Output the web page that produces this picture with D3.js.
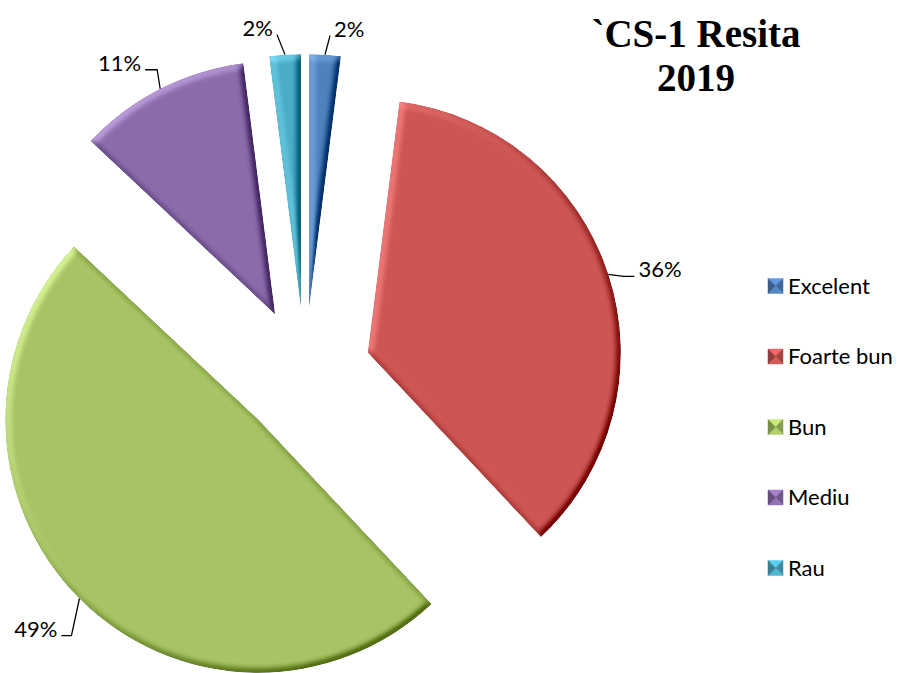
<!DOCTYPE html>
<html>
<head>
<meta charset="utf-8">
<script src="https://cdnjs.cloudflare.com/ajax/libs/d3/7.8.5/d3.min.js"></script>
<style>
    body { margin: 0; background: #fff; }
</style>
</head>
<body>
<div id="chart"></div>
<script>
//DATA
var categories = ["Excelent", "Foarte bun", "Bun", "Mediu", "Rau"];
var percentValues = [2, 36, 49, 11, 2];
var percentLabels = ["2%", "36%", "49%", "11%", "2%"];
var titleLines = ["`CS-1 Resita", "2019"];

//STYLE + LAYOUT
var sliceColors = ["#4f81bd", "#cb5653", "#a6c463", "#8a6cab", "#4bacc6"];
var width = 901,
    height = 673;
var center = { x: 305, y: 373 };
var radius = 253,
    explode = 66;
// elbow of each leader line relative to the arc midpoint: [dx, dy, horizontal stub]
var leaderOffsets = [[5, -19, 0], [15, 2, 11], [-8, 37, -10], [-3, -19, -12], [-8, -20, 0]];
var labelFont = "Lato, 'Open Sans', sans-serif";

var svg = d3.select("#chart").append("svg")
    .attr("width", width)
    .attr("height", height);

/*--------------------------------------- bevel filter --------------------------------------*/
var defs = svg.append("defs");
// region is in the slice's local (translated) coordinates, so keep it big
var bevel = defs.append("filter")
    .attr("id", "bevel")
    .attr("filterUnits", "userSpaceOnUse")
    .attr("x", -width).attr("y", -height)
    .attr("width", width * 2).attr("height", height * 2)
    .attr("color-interpolation-filters", "sRGB");

bevel.append("feGaussianBlur")
    .attr("in", "SourceAlpha")
    .attr("stdDeviation", 3.5)
    .attr("result", "blur");

var light = bevel.append("feDiffuseLighting")
    .attr("in", "blur")
    .attr("surfaceScale", 5)
    .attr("diffuseConstant", 1)
    .attr("lighting-color", "#fff")
    .attr("result", "diffuse");
light.append("feDistantLight")
    .attr("azimuth", 225)
    .attr("elevation", 40);

// flat surface gives sin(40deg) ~ 0.643, so shift it back to zero
bevel.append("feComposite")
    .attr("in", "SourceGraphic")
    .attr("in2", "diffuse")
    .attr("operator", "arithmetic")
    .attr("k1", 0).attr("k2", 1).attr("k3", 0.5).attr("k4", -0.5 * 0.643)
    .attr("result", "lit");

bevel.append("feComposite")
    .attr("in", "lit")
    .attr("in2", "SourceAlpha")
    .attr("operator", "in");

/*--------------------------------------- pie --------------------------------------*/
var pie = d3.pie().sort(null).value(function(d) { return d; });
var arc = d3.arc().innerRadius(0).outerRadius(radius);
var slices = pie(percentValues);

function midAngle(d) {
    return (d.startAngle + d.endAngle) / 2;
}

var sliceGroups = svg.selectAll("g.slice")
    .data(slices)
    .enter()
    .append("g")
    .attr("class", "slice")
    .attr("transform", function(d) {
        var a = midAngle(d);
        return "translate(" + (center.x + explode * Math.sin(a)) + "," + (center.y - explode * Math.cos(a)) + ")";
    });

sliceGroups.append("path")
    .attr("d", arc)
    .style("fill", function(d, i) { return sliceColors[i]; })
    .attr("filter", "url(#bevel)");

//labels with leader lines
sliceGroups.each(function(d, i) {
    var g = d3.select(this);
    var a = midAngle(d);
    var p0 = [radius * Math.sin(a), -radius * Math.cos(a)];
    var off = leaderOffsets[i];
    var p1 = [p0[0] + off[0], p0[1] + off[1]];
    var p2 = [p1[0] + off[2], p1[1]];
    var side = off[2] !== 0 ? Math.sign(off[2]) : Math.sign(off[0]);

    g.append("path")
        .attr("d", d3.line()([p0, p1, p2]))
        .style("fill", "none")
        .style("stroke", "#000")
        .style("stroke-width", 1.3);

    g.append("text")
        .attr("x", p2[0] + side * 4)
        .attr("y", p2[1] + 1)
        .attr("text-anchor", side > 0 ? "start" : "end")
        .style("font-family", labelFont)
        .style("font-size", "22px")
        .style("fill", "#000")
        .text(percentLabels[i]);
});

/*--------------------------------------- title --------------------------------------*/
svg.selectAll("text.title")
    .data(titleLines)
    .enter()
    .append("text")
    .attr("class", "title")
    .attr("x", 696)
    .attr("y", function(d, i) { return 47 + i * 44; })
    .attr("text-anchor", "middle")
    .style("font-family", "'Liberation Serif', 'Times New Roman', serif")
    .style("font-weight", "bold")
    .style("font-size", "39px")
    .text(function(d) { return d; });

/*--------------------------------------- legend --------------------------------------*/
var legendY = d3.scalePoint()
    .domain(categories)
    .range([286, 568]);

var legend = svg.selectAll("g.legend")
    .data(categories)
    .enter()
    .append("g")
    .attr("class", "legend")
    .attr("transform", function(d) { return "translate(768," + legendY(d) + ")"; });

var s = 15,
    h = s / 2;
// little pyramid squares: top, right, bottom, left triangles
var faces = [
    [[-0, -h], [s, -h], [h, 0]],
    [[s, -h], [s, h], [h, 0]],
    [[s, h], [0, h], [h, 0]],
    [[0, h], [0, -h], [h, 0]]
];
var faceShade = [0.5, -0.6, 0.15, -0.9];

legend.each(function(d, i) {
    var g = d3.select(this);
    faces.forEach(function(f, j) {
        var c = faceShade[j] > 0 ? d3.color(sliceColors[i]).brighter(faceShade[j]) : d3.color(sliceColors[i]).darker(-faceShade[j]);
        g.append("path")
            .attr("d", "M" + f.join("L") + "Z")
            .style("fill", c.formatHex())
            .style("stroke", c.formatHex())
            .style("stroke-width", 0.5);
    });
});

legend.append("text")
    .attr("x", 20)
    .attr("y", 7.5)
    .style("font-family", labelFont)
    .style("font-size", "22px")
    .style("fill", "#000")
    .text(function(d) { return d; });
</script>
</body>
</html>
